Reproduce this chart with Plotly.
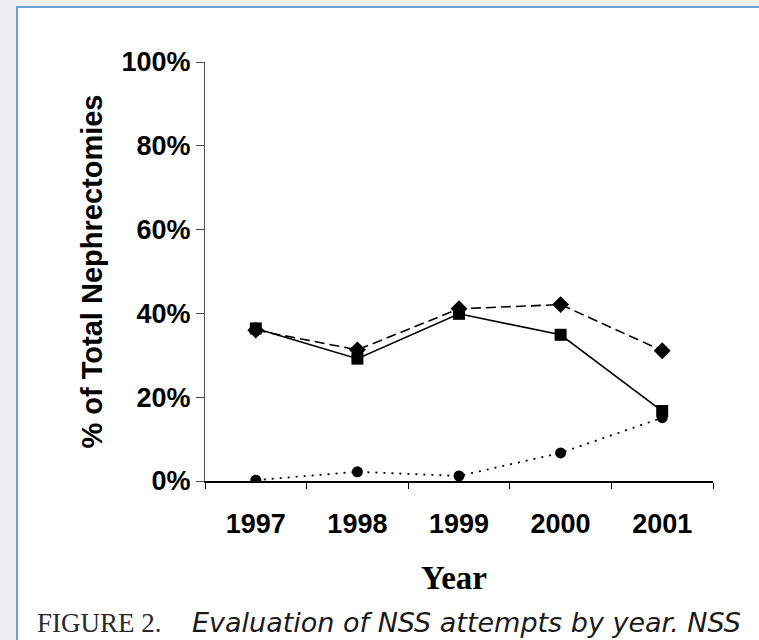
import plotly.graph_objects as go

# Data: share of total nephrectomies by year
years = ["1997", "1998", "1999", "2000", "2001"]
nss_attempted = [36.0, 31.3, 41.1, 42.1, 31.1]      # diamonds, dashed
nss_completed = [36.4, 29.2, 39.9, 34.9, 16.7]      # squares, solid
nss_converted = [0.2, 2.2, 1.2, 6.7, 15.1]          # circles, dotted
y_ticks = [0, 20, 40, 60, 80, 100]
y_tick_labels = ["0%", "20%", "40%", "60%", "80%", "100%"]

W, H = 759, 640
L, R, T, B = 205, 713, 62, 481  # plot area in pixels


def px(x):
    return (x - L) / (R - L)


def py(y):
    return (B - y) / (B - T)


fig = go.Figure()

fig.add_trace(go.Scatter(
    x=years, y=nss_attempted, mode="lines+markers",
    line=dict(color="black", width=1.6, dash="10px,5px"),
    marker=dict(symbol="diamond", size=13, color="black"),
    showlegend=False,
))
fig.add_trace(go.Scatter(
    x=years, y=nss_completed, mode="lines+markers",
    line=dict(color="black", width=1.6),
    marker=dict(symbol="square", size=12, color="black"),
    showlegend=False,
))
fig.add_trace(go.Scatter(
    x=years, y=nss_converted, mode="lines+markers",
    line=dict(color="black", width=1.8, dash="2px,6px"),
    marker=dict(symbol="circle", size=11, color="black"),
    showlegend=False,
))

axis_font = dict(family="Liberation Sans, Arial", size=27, color="black", weight="bold")

fig.update_xaxes(
    type="category", range=[-0.5, 4.5],
    showline=True, linecolor="black", linewidth=1.5,
    ticks="outside", tickson="boundaries", ticklen=6, tickwidth=1.2, tickcolor="black",
    tickfont=axis_font, showgrid=False, zeroline=False,
    ticklabelstandoff=18,
)
fig.update_yaxes(
    range=[0, 100], tickvals=y_ticks, ticktext=y_tick_labels,
    showline=True, linecolor="#555", linewidth=1.2,
    ticks="outside", ticklen=8, tickwidth=1, tickcolor="#444",
    tickfont=axis_font, showgrid=False, zeroline=False,
    title=dict(text="% of Total Nephrectomies",
               font=dict(family="Liberation Sans, Arial", size=29, color="black", weight="bold"),
               standoff=10),
)

# page background and framed panel
fig.add_shape(type="rect", xref="paper", yref="paper",
              x0=px(17), x1=px(780), y0=py(660), y1=py(7),
              fillcolor="white", line=dict(color="#6f9fd3", width=2), layer="below")

fig.add_annotation(text="<b>Year</b>", xref="paper", yref="paper",
                   x=px(454), y=py(578), xanchor="center", yanchor="middle", showarrow=False,
                   font=dict(family="Liberation Serif, Times New Roman", size=33, color="black"))
fig.add_annotation(
    text="FIGURE 2.", xref="paper", yref="paper", x=px(35), y=py(623),
    xanchor="left", yanchor="middle", showarrow=False,
    font=dict(family="Liberation Serif", size=27, color="#2a2a2a"),
)
fig.add_annotation(
    text="<i>Evaluation of NSS attempts by year. NSS</i>", xref="paper", yref="paper",
    x=px(190), y=py(622), xanchor="left", yanchor="middle", showarrow=False,
    font=dict(family="DejaVu Sans", size=27, color="#1a1a1a"),
)

fig.update_layout(
    width=W, height=H,
    margin=dict(l=L, r=W - R, t=T, b=H - B),
    paper_bgcolor="#eef0f4", plot_bgcolor="rgba(0,0,0,0)",
)

fig.write_html("out.html")
